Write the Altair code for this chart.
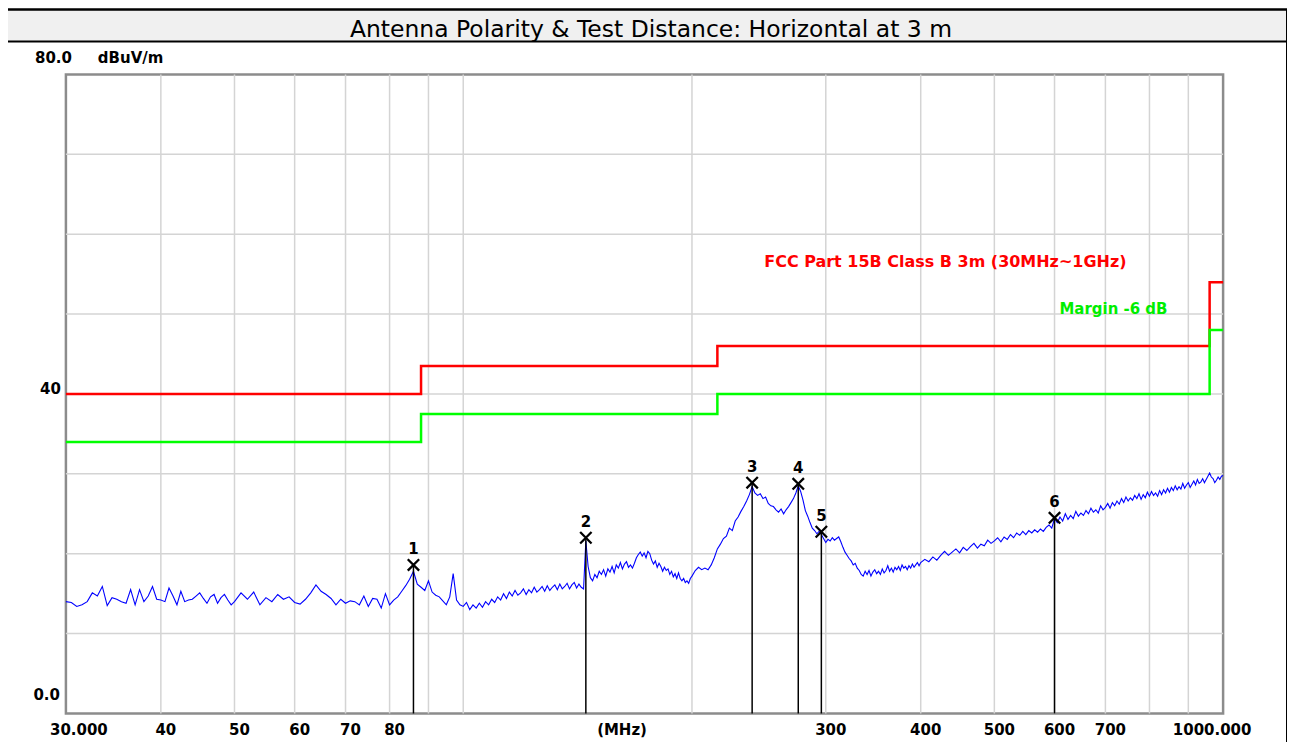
import altair as alt
import pandas as pd

TITLE = "Antenna Polarity & Test Distance: Horizontal at 3 m"

trace_points = [
    (30.0, 14.0), (30.5, 13.9), (31.0, 13.4), (31.5, 13.6), (32.0, 14.0), (32.5, 15.1), (33.0, 14.7),
    (33.5, 15.9), (34.0, 13.5), (34.5, 14.5), (35.0, 14.3), (35.5, 14.0), (36.0, 13.8), (36.5, 15.5),
    (37.0, 13.6), (37.5, 15.5), (38.0, 14.0), (38.5, 14.7), (39.0, 15.9), (39.5, 14.3), (40.0, 14.2),
    (40.5, 14.0), (41.0, 15.7), (41.5, 14.7), (42.0, 13.6), (42.5, 15.3), (43.0, 14.0), (43.5, 14.2),
    (44.0, 14.3), (44.5, 14.7), (45.0, 15.1), (45.5, 14.4), (46.0, 13.8), (46.5, 14.6), (47.0, 14.9),
    (47.5, 13.8), (48.0, 14.5), (48.5, 14.9), (49.0, 14.2), (49.5, 13.6),
    (50, 14.0), (51, 15.1), (52, 14.3), (53, 15.2), (54, 13.6), (55, 14.5), (56, 14.0), (57, 14.9),
    (58, 14.3), (59, 14.6), (60, 13.9), (61, 13.7), (62, 14.3), (63, 15.1), (64, 16.1), (65, 15.3),
    (66, 14.9), (67, 14.4), (68, 13.6), (69, 14.3), (70, 13.8), (71, 14.1), (72, 14.0), (73, 13.6),
    (74, 14.7), (75, 13.4), (76, 14.4), (77, 14.3), (78, 13.2), (79, 15.0), (80, 13.6), (81, 14.2),
    (82, 14.6), (83, 15.3), (84, 16.0), (85, 16.8), (86, 17.8), (87, 16.2), (88, 15.8), (89, 15.4),
    (90, 16.6), (91, 15.2), (92, 14.8), (93, 14.6), (94, 14.1), (95, 13.6), (96, 14.6), (97, 17.5),
    (98, 14.2), (99, 13.6),
    (100, 13.4), (101, 13.9), (102, 13.0), (103, 13.6), (104, 13.2), (105, 13.8), (106, 13.3),
    (107, 14.0), (108, 13.6), (109, 14.3), (110, 13.9), (111, 14.6), (112, 14.2), (113, 15.0),
    (114, 14.4), (115, 15.2), (116, 14.7), (117, 15.4), (118, 14.8), (119, 15.1), (120, 15.6),
    (121, 14.9), (122, 15.5), (123, 15.1), (124, 15.8), (125, 15.2), (126, 15.5), (127, 15.9),
    (128, 15.3), (129, 16.0), (130, 15.4), (131, 15.8), (132, 16.1), (133, 15.5), (134, 16.2),
    (135, 15.6), (136, 15.9), (137, 16.3), (138, 15.6), (139, 16.1), (140, 16.4), (141, 15.7),
    (142, 16.2), (143, 15.8), (144, 15.6), (145, 21.6), (146, 18.4), (147, 17.0), (148, 16.6),
    (149, 17.4), (150, 17.0), (151, 17.8), (152, 17.4), (153, 18.0), (154, 17.2), (155, 18.1),
    (156, 17.7), (157, 18.4), (158, 17.6), (159, 18.6), (160, 18.2), (161, 18.9), (162, 18.1),
    (163, 18.7), (164, 19.0), (165, 18.3), (166, 18.6), (167, 18.2), (168, 18.8), (169, 19.5),
    (170, 19.9), (171, 20.2), (172, 19.7), (173, 20.1), (174, 19.5), (175, 20.3), (176, 20.0),
    (177, 19.2), (178, 18.7), (179, 19.1), (180, 18.3), (181, 18.8), (182, 18.4), (183, 17.8),
    (184, 18.3), (185, 17.9), (186, 18.1), (187, 17.4), (188, 17.8), (189, 17.1), (190, 17.5),
    (191, 16.9), (192, 17.6), (193, 16.9), (194, 16.6), (195, 16.9), (196, 16.4), (197, 16.6),
    (198, 16.3), (199, 16.9),
    (200, 17.2), (202, 17.9), (204, 18.3), (206, 18.0), (208, 18.2), (210, 18.0), (212, 18.6),
    (214, 19.5), (216, 20.6), (218, 21.2), (220, 21.9), (222, 22.2), (224, 23.2), (226, 22.9),
    (228, 24.1), (230, 24.6), (232, 25.3), (234, 25.9), (236, 26.6), (238, 27.4), (240, 28.4),
    (242, 27.6), (244, 27.3), (246, 27.5), (248, 26.9), (250, 27.1), (252, 26.3), (254, 26.0),
    (256, 25.9), (258, 25.5), (260, 25.2), (262, 25.6), (264, 25.0), (266, 25.5), (268, 25.9),
    (270, 26.4), (272, 26.9), (274, 27.6), (276, 28.5), (278, 27.8), (280, 26.7), (282, 25.4),
    (284, 24.7), (286, 23.9), (288, 23.2), (290, 22.9), (292, 22.5), (294, 22.8), (296, 22.4),
    (298, 21.9), (300, 21.4), (302, 21.8), (304, 21.6), (306, 22.0), (308, 21.7), (310, 21.9),
    (312, 22.1), (314, 21.5), (316, 20.8), (318, 20.2), (320, 19.8), (322, 19.4), (324, 19.1),
    (326, 18.6), (328, 18.8), (330, 18.2), (332, 17.9), (334, 17.4), (336, 17.2), (338, 17.8),
    (340, 17.4), (342, 17.9), (344, 17.2), (346, 17.7), (348, 18.0), (350, 17.5), (352, 17.8),
    (354, 17.4), (356, 18.1), (358, 17.6), (360, 17.9), (362, 18.5), (364, 17.8), (366, 18.2),
    (368, 17.7), (370, 18.3), (372, 18.0), (374, 18.4), (376, 17.9), (378, 18.6), (380, 18.2),
    (382, 18.4), (384, 18.0), (386, 18.5), (388, 18.2), (390, 18.7), (392, 18.3), (394, 18.6),
    (396, 18.9), (398, 18.5),
    (400, 18.9), (405, 19.3), (410, 19.0), (415, 19.6), (420, 19.2), (425, 19.8), (430, 20.3),
    (435, 19.8), (440, 20.2), (445, 20.6), (450, 20.1), (455, 20.8), (460, 20.4), (465, 20.9),
    (470, 21.3), (475, 20.7), (480, 21.2), (485, 21.0), (490, 21.7), (495, 21.3), (500, 21.6),
    (505, 22.0), (510, 21.5), (515, 22.1), (520, 21.8), (525, 22.4), (530, 22.0), (535, 22.6),
    (540, 22.3), (545, 22.8), (550, 22.4), (555, 22.9), (560, 22.6), (565, 23.0), (570, 22.7),
    (575, 23.1), (580, 22.8), (585, 23.3), (590, 23.6), (595, 23.2), (600, 24.4), (605, 23.9),
    (610, 24.6), (615, 24.1), (620, 25.0), (625, 24.3), (630, 24.8), (635, 24.4), (640, 25.3),
    (645, 24.7), (650, 25.1), (655, 24.8), (660, 25.4), (665, 25.0), (670, 25.7), (675, 25.2),
    (680, 25.5), (685, 25.1), (690, 26.0), (695, 25.5), (700, 25.8), (705, 26.3), (710, 25.7),
    (715, 26.4), (720, 26.0), (725, 26.6), (730, 26.2), (735, 26.9), (740, 26.4), (745, 27.1),
    (750, 26.6), (755, 27.0), (760, 26.7), (765, 27.3), (770, 26.9), (775, 27.5), (780, 26.8),
    (785, 27.4), (790, 27.0), (795, 27.7), (800, 27.2), (805, 27.8), (810, 27.3), (815, 27.6),
    (820, 27.2), (825, 27.9), (830, 27.4), (835, 28.0), (840, 27.6), (845, 28.2), (850, 27.7),
    (855, 28.3), (860, 27.9), (865, 28.5), (870, 28.0), (875, 28.4), (880, 28.1), (885, 28.8),
    (890, 28.2), (895, 28.6), (900, 28.9), (905, 28.3), (910, 28.7), (915, 29.1), (920, 28.6),
    (925, 29.3), (930, 28.8), (935, 29.0), (940, 29.4), (945, 28.9), (950, 29.3), (955, 29.7),
    (960, 30.1), (965, 29.6), (970, 29.4), (975, 28.9), (980, 29.2), (985, 29.6), (990, 29.3),
    (995, 29.7), (1000, 29.8),
]
trace_freq = [p[0] for p in trace_points]
trace_level = [p[1] for p in trace_points]

# ---- limit lines ----
limit_freq = [30, 88, 216, 960, 1000]
limit_level = [40, 43.5, 46, 54, 54]
margin_level = [34, 37.5, 40, 48, 48]

# ---- markers ----
marker_id = ["1", "2", "3", "4", "5", "6"]
marker_freq = [86, 145, 240, 276, 296, 600]
marker_level = [18.6, 22.0, 28.9, 28.75, 22.75, 24.5]

# ---- axes ----
x_grid = [40, 50, 60, 70, 80, 90, 100, 200, 300, 400, 500, 600, 700, 800, 900]
y_grid = [10, 20, 30, 40, 50, 60, 70]
x_tick_values = [30, 40, 50, 60, 70, 80, 300, 400, 500, 600, 700, 1000]
x_tick_labels = ["30.000", "40", "50", "60", "70", "80", "300", "400", "500", "600", "700", "1000.000"]
y_tick_values = [0, 40, 80]
y_tick_labels = ["0.0", "40", "80.0"]

W, H = 1159, 640
LFONT = "DejaVu Sans"

xs = alt.Scale(type="log", domain=[30, 1000], nice=False)
ys = alt.Scale(domain=[0, 80], nice=False, zero=False)
XN = lambda: alt.X("f:Q", scale=xs, axis=None)
YN = lambda: alt.Y("v:Q", scale=ys, axis=None)

trace_df = pd.DataFrame({"f": trace_freq, "v": trace_level})
limit_df = pd.DataFrame({"f": limit_freq, "v": limit_level})
margin_df = pd.DataFrame({"f": limit_freq, "v": margin_level})
marker_df = pd.DataFrame({"id": marker_id, "f": marker_freq, "v": marker_level})
one = pd.DataFrame({"a": [0]})

title_bar = alt.Chart(one).mark_rect(fill="#f0f0f0", stroke="black", strokeWidth=2).encode(
    x=alt.value(-61), x2=alt.value(1223), y=alt.value(-65), y2=alt.value(-33)
)
frame = alt.Chart(one).mark_rect(fill=None, stroke="black", strokeWidth=2, filled=False).encode(
    x=alt.value(-61), x2=alt.value(1223), y=alt.value(-65), y2=alt.value(720)
)
title_txt = alt.Chart(one).mark_text(font=LFONT, fontSize=23.5, color="black", baseline="middle").encode(
    x=alt.value(586), y=alt.value(-45), text=alt.value(TITLE)
)

vgrid = alt.Chart(pd.DataFrame({"f": x_grid})).mark_rule(color="#d4d4d4", strokeWidth=1.5).encode(x=XN())
hgrid = alt.Chart(pd.DataFrame({"v": y_grid})).mark_rule(color="#d4d4d4", strokeWidth=1.5).encode(y=YN())

trace = alt.Chart(trace_df).mark_line(color="#0000ff", strokeWidth=1.1).encode(x=XN(), y=YN())
limit = alt.Chart(limit_df).mark_line(color="#ff0000", strokeWidth=2.5, interpolate="step-after").encode(x=XN(), y=YN())
margin = alt.Chart(margin_df).mark_line(color="#00ff00", strokeWidth=2.5, interpolate="step-after").encode(x=XN(), y=YN())
m_rules = alt.Chart(marker_df).mark_rule(color="black", strokeWidth=1.5).encode(x=XN(), y=YN(), y2=alt.value(H))
m_pts = alt.Chart(marker_df).mark_point(
    shape="M-1,-1L1,1M-1,1L1,-1", filled=False, stroke="black", strokeWidth=2.3, size=130, opacity=1
).encode(x=XN(), y=YN())
m_txt = alt.Chart(marker_df).mark_text(font=LFONT, fontSize=15, fontWeight="bold", color="black", dy=-16).encode(
    x=XN(), y=YN(), text="id:N"
)

lim_txt = alt.Chart(pd.DataFrame({"f": [249], "v": [56.5], "t": ["FCC Part 15B Class B 3m (30MHz~1GHz)"]})).mark_text(
    font=LFONT, fontSize=16, fontWeight="bold", color="#ff0000", align="left", baseline="middle"
).encode(x=XN(), y=YN(), text="t:N")
mar_txt = alt.Chart(pd.DataFrame({"f": [609], "v": [50.6], "t": ["Margin -6 dB"]})).mark_text(
    font=LFONT, fontSize=15, fontWeight="bold", color="#00ee00", align="left", baseline="middle"
).encode(x=XN(), y=YN(), text="t:N")

# tick labels
xl = pd.DataFrame({"f": x_tick_values, "t": x_tick_labels})
lab_style = dict(font=LFONT, fontSize=15, fontWeight="bold", color="black", baseline="middle")
LY = H + 17
x_first = alt.Chart(xl.iloc[[0]]).mark_text(dx=13, **lab_style).encode(x=XN(), y=alt.value(LY), text="t:N")
x_mid = alt.Chart(xl.iloc[1:-1]).mark_text(dx=5, **lab_style).encode(x=XN(), y=alt.value(LY), text="t:N")
x_last = alt.Chart(xl.iloc[[-1]]).mark_text(dx=-11, **lab_style).encode(x=XN(), y=alt.value(LY), text="t:N")
x_unit = alt.Chart(one).mark_text(**lab_style).encode(x=alt.value(557), y=alt.value(LY), text=alt.value("(MHz)"))

yl = pd.DataFrame({"v": y_tick_values, "t": y_tick_labels})
y0 = alt.Chart(yl.iloc[[0]]).mark_text(align="right", dy=-18, **lab_style).encode(
    x=alt.value(-6), y=YN(), text="t:N")
y40 = alt.Chart(yl.iloc[[1]]).mark_text(align="right", dy=-5, **lab_style).encode(
    x=alt.value(-5), y=YN(), text="t:N")
y80 = alt.Chart(yl.iloc[[2]]).mark_text(align="right", dy=-16, **lab_style).encode(
    x=alt.value(6), y=YN(), text="t:N")
y_unit = alt.Chart(one).mark_text(align="left", **lab_style).encode(
    x=alt.value(32), y=alt.value(-16), text=alt.value("dBuV/m"))

chart = alt.layer(
    title_bar, frame, title_txt, vgrid, hgrid, limit, margin, trace, m_rules, m_pts, m_txt,
    lim_txt, mar_txt, x_first, x_mid, x_last, x_unit, y0, y40, y80, y_unit
).properties(
    width=W, height=H,
    autosize=alt.AutoSizeParams(type="none"),
    padding={"left": 58, "top": 66, "right": 64, "bottom": 28},
).configure_view(stroke="#8c8c8c", strokeWidth=2.5)

chart.save("out.html", embed_options={"renderer": "svg", "actions": False})
